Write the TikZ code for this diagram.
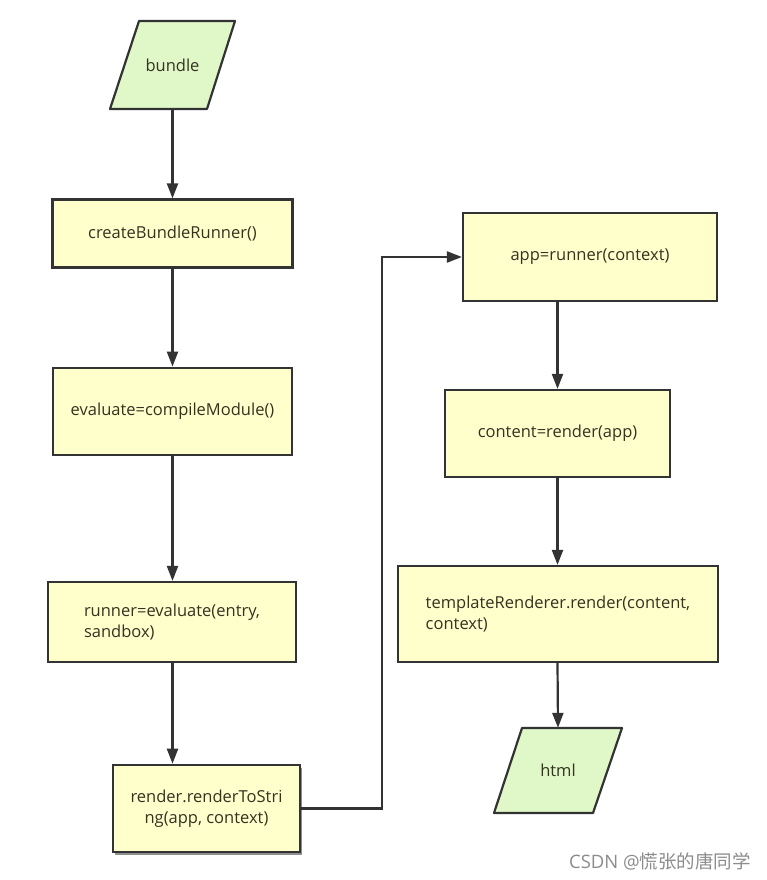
\documentclass[tikz,border=0pt]{standalone}
\usepackage{fontspec}
\setmainfont{Open Sans}
\newfontfamily\cjk{Noto Sans CJK SC}
\usetikzlibrary{arrows.meta,calc}
\definecolor{lineC}{HTML}{333333}
\definecolor{yelC}{HTML}{FFFFCC}
\definecolor{grnC}{HTML}{E0F8C8}
\definecolor{txtC}{HTML}{333322}
\tikzset{
  x=1pt,y=-1pt,
  procbox/.style={draw=lineC,fill=yelC,line width=2.2pt,text=txtC,font=\fontsize{16.5}{21}\selectfont,inner sep=0pt,anchor=center},
  iotext/.style={text=txtC,font=\fontsize{16.5}{21}\selectfont,inner sep=0pt},
  iobox/.style={draw=lineC,fill=grnC,line width=2.2pt,line join=round},
  flow/.style={draw=lineC,line width=2.2pt,-{Triangle[length=15pt,width=11pt]}},
}
\begin{document}
\begin{tikzpicture}
\useasboundingbox[fill=white] (0,0) rectangle (766,880);
% bundle
\draw[iobox] (139,21) -- (235,21) -- (207,109) -- (110,109) -- cycle;
\node[iotext,minimum height=88pt,minimum width=60pt] (bundle) at (172.5,65) {bundle};
% left column
\node[procbox,minimum width=240pt,minimum height=68pt] (cbr) at (172.5,233.5) {createBundleRunner()};
\node[procbox,line width=2.8pt,minimum width=239pt,minimum height=87pt] (cm) at (172.5,411.5) {evaluate=compileModule()};
\node[procbox,minimum width=248pt,minimum height=80pt,align=left] (run) at (172,622) {runner=evaluate(entry,\\sandbox)};
\fill[lineC!55] (115,768) rectangle (302,855);
\node[procbox,line width=2.6pt,minimum width=187pt,minimum height=87pt,align=center] (rts) at (206.5,808.5) {render.renderToStri\\ng(app, context)};
% right column
\node[procbox,minimum width=254pt,minimum height=88pt] (app) at (590,257) {app=runner(context)};
\node[procbox,minimum width=225pt,minimum height=87pt] (cont) at (557.5,433.5) {content=render(app)};
\node[procbox,minimum width=320pt,minimum height=96pt,align=left] (tpl) at (558,614) {templateRenderer.render(content,\\context)};
% html
\draw[iobox] (522,728) -- (622,728) -- (593,813) -- (494,813) -- cycle;
\node[iotext,minimum height=85pt,minimum width=60pt] (html) at (558,770.5) {html};
% connectors
\draw[flow] (bundle.south) -- (cbr.north);
\draw[flow] (cbr.south) -- (cm.north);
\draw[flow] (cm.south) -- (cm.south |- run.north);
\draw[flow] (run.south -| cbr.south) -- (rts.north -| cbr.south);
\draw[flow] (rts.east) -- (382,808.5) |- (app.west);
\draw[flow] (app.south -| cont.north) -- (cont.north);
\draw[flow] (cont.south) -- (cont.south |- tpl.north);
\draw[flow] (tpl.south -| cont.south) -- (html.north);
% watermark
\node[text=black!45,font=\fontsize{18.5}{20}\selectfont,anchor=east,inner sep=0pt] (wm) at (751,861) {CSDN @\cjk 慌张的唐同学};
\end{tikzpicture}
\end{document}
